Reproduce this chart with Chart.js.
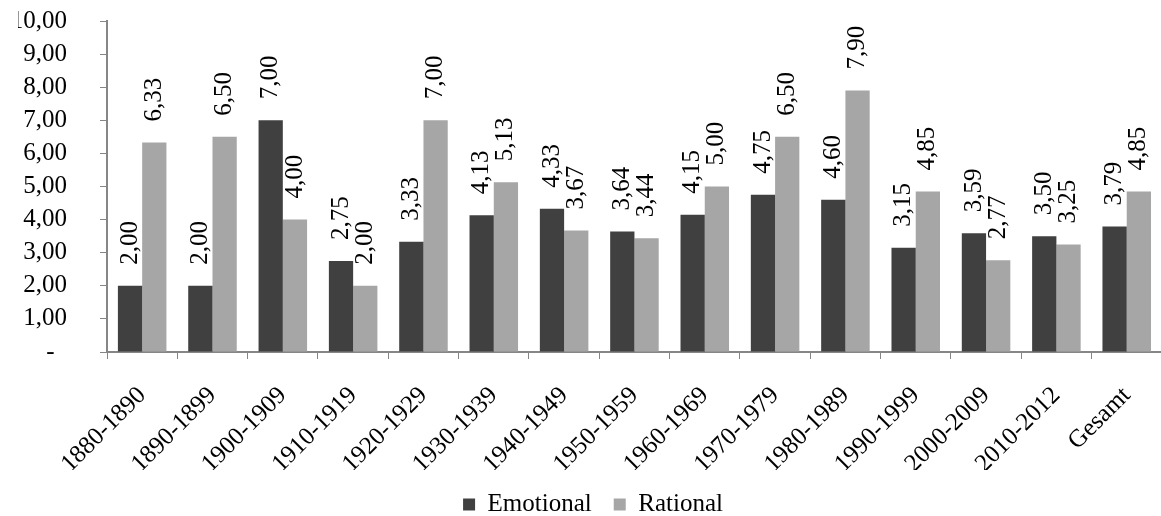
<!DOCTYPE html>
<html>
<head>
<meta charset="utf-8">
<script src="https://cdn.jsdelivr.net/npm/chart.js@4/dist/chart.umd.min.js"></script>
<style>
  html, body { margin: 0; padding: 0; background: #fff; overflow: hidden; }
</style>
</head>
<body>
<canvas id="myChart" width="1170" height="516"></canvas>
<script>
const ctx = document.getElementById("myChart");

const etiquetas = ["1880-1890", "1890-1899", "1900-1909", "1910-1919", "1920-1929", "1930-1939", "1940-1949",
  "1950-1959", "1960-1969", "1970-1979", "1980-1989", "1990-1999", "2000-2009", "2010-2012", "Gesamt"];
const emotional = [2.00, 2.00, 7.00, 2.75, 3.33, 4.13, 4.33, 3.64, 4.15, 4.75, 4.60, 3.15, 3.59, 3.50, 3.79];
const rational = [6.33, 6.50, 4.00, 2.00, 7.00, 5.13, 3.67, 3.44, 5.00, 6.50, 7.90, 4.85, 2.77, 3.25, 4.85];

const fuente = "'Liberation Serif', 'Times New Roman', serif";
const gris = "#868686";

// numeros con coma decimal
function fmt(v) {
  return v.toFixed(2).replace(".", ",");
}

// etiquetas de valor giradas encima de cada barra
const valoresBarras = {
  id: "valoresBarras",
  afterDatasetsDraw(chart) {
    const c = chart.ctx;
    c.save();
    c.font = "25px " + fuente;
    c.fillStyle = "#000";
    chart.data.datasets.forEach((ds, i) => {
      chart.getDatasetMeta(i).data.forEach((bar, j) => {
        c.save();
        c.translate(bar.x, bar.y - 21);
        c.rotate(-Math.PI / 2);
        c.textAlign = "left";
        c.textBaseline = "middle";
        c.fillText(fmt(ds.data[j]), 0, 0);
        c.restore();
      });
    });
    c.restore();
  },
};

function dibujar() {
  new Chart(ctx, {
    type: "bar",
    data: {
      labels: etiquetas,
      datasets: [
        {
          label: "Emotional",
          data: emotional,
          backgroundColor: "#404040",
          categoryPercentage: 0.69,
          barPercentage: 1.0,
        },
        {
          label: "Rational",
          data: rational,
          backgroundColor: "#a6a6a6",
          categoryPercentage: 0.69,
          barPercentage: 1.0,
        },
      ],
    },
    options: {
      responsive: false,
      animation: false,
      layout: {
        padding: { top: 0, left: 18, right: 2, bottom: -11 },
      },
      plugins: {
        tooltip: { enabled: false },
        legend: {
          position: "bottom",
          labels: {
            boxWidth: 12,
            boxHeight: 12,
            padding: 22,
            color: "#000",
            font: { family: fuente, size: 25 },
          },
        },
      },
      scales: {
        x: {
          grid: {
            display: true,
            drawOnChartArea: false,
            tickLength: 7,
            color: gris,
            offset: true,
          },
          border: { color: gris, width: 2 },
          ticks: {
            color: "#000",
            font: { family: fuente, size: 25 },
            minRotation: 45,
            maxRotation: 45,
            autoSkip: false,
            padding: 22,
          },
          afterFit(scale) {
            scale.height = 118;
          },
        },
        y: {
          min: 0,
          max: 10,
          grid: {
            display: true,
            drawOnChartArea: false,
            tickLength: 7,
            color: gris,
          },
          border: { color: gris, width: 2 },
          ticks: {
            stepSize: 1,
            autoSkip: false,
            color: "#000",
            font: { family: fuente, size: 25 },
            padding: 33,
            callback: (v) => (v === 0 ? "-  " : fmt(v)),
          },
          afterFit(scale) {
            scale.width = 89;
            scale.paddingTop = 21;
            scale.paddingBottom = 0;
          },
        },
      },
    },
    plugins: [valoresBarras],
  });
}

if (document.fonts && document.fonts.load) {
  document.fonts.load("25px 'Liberation Serif'").then(dibujar, dibujar);
} else {
  dibujar();
}
</script>
</body>
</html>
